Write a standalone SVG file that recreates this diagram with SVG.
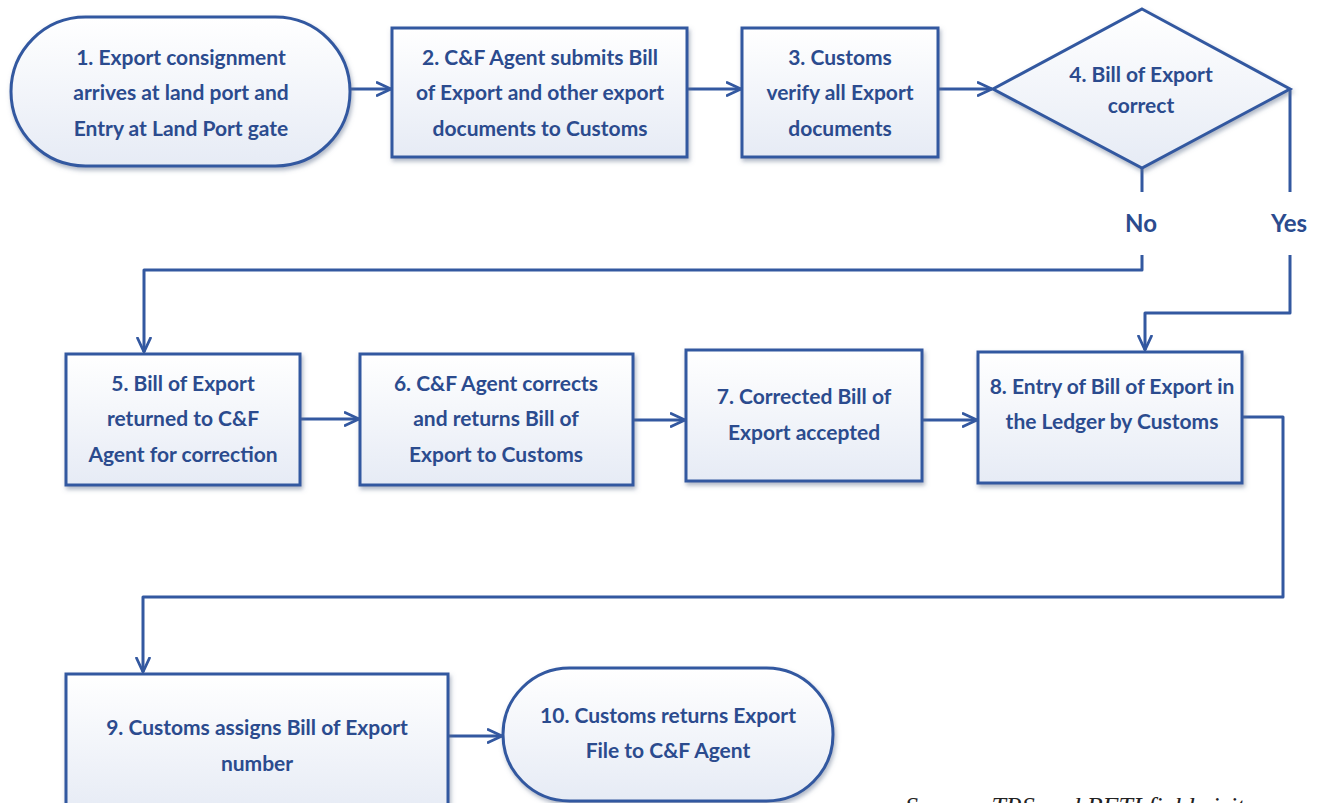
<svg xmlns="http://www.w3.org/2000/svg" width="1320" height="803" viewBox="0 0 1320 803">
  <defs>
    <linearGradient id="fillGrad" x1="0" y1="0" x2="0" y2="1">
      <stop offset="0" stop-color="#ffffff"/>
      <stop offset="1" stop-color="#e6ebf5"/>
    </linearGradient>
    <filter id="shadow" x="-10%" y="-10%" width="125%" height="130%">
      <feDropShadow dx="1.5" dy="3" stdDeviation="2.2" flood-color="#5f6f8c" flood-opacity="0.5"/>
    </filter>
    <marker id="arrow" viewBox="0 0 16 16" refX="15" refY="8" markerWidth="16" markerHeight="16" markerUnits="userSpaceOnUse" orient="auto">
      <polyline points="1,1.5 15,8 1,14.5" fill="none" stroke="#3358a0" stroke-width="2.8" stroke-linecap="round" stroke-linejoin="round"/>
    </marker>
    <style>
      .shape { fill: url(#fillGrad); stroke: #3358a0; stroke-width: 3; filter: url(#shadow); }
      .label { font-family: "Lato", "Liberation Sans", sans-serif; font-weight: 700; font-size: 21px; fill: #2b4b8e; text-anchor: middle; }
      .branch { font-family: "Lato", "Liberation Sans", sans-serif; font-weight: 700; font-size: 24px; fill: #2b4b8e; text-anchor: middle; }
      .conn { fill: none; stroke: #3358a0; stroke-width: 3; stroke-linejoin: round; }
      .source { font-family: "Liberation Serif", serif; font-style: italic; font-size: 26px; fill: #222; }
    </style>
  </defs>

  <rect width="1320" height="803" fill="#ffffff"/>

  <!-- connectors -->
  <g id="connectors">
    <path class="conn" d="M350,89 H391" marker-end="url(#arrow)"/>
    <path class="conn" d="M687,89 H741" marker-end="url(#arrow)"/>
    <path class="conn" d="M938,89 H992" marker-end="url(#arrow)"/>
    <path class="conn" d="M1142,168 V192"/>
    <path class="conn" d="M1142,255 V270 H144 V352" marker-end="url(#arrow)"/>
    <path class="conn" d="M1290,89 V192"/>
    <path class="conn" d="M1290,255 V313 H1145 V350" marker-end="url(#arrow)"/>
    <path class="conn" d="M300,419 H359" marker-end="url(#arrow)"/>
    <path class="conn" d="M633,420 H685" marker-end="url(#arrow)"/>
    <path class="conn" d="M922,420 H977" marker-end="url(#arrow)"/>
    <path class="conn" d="M1242,417 H1283 V597 H143 V672" marker-end="url(#arrow)"/>
    <path class="conn" d="M448,736 H502" marker-end="url(#arrow)"/>
    <text class="branch" x="1141" y="232">No</text>
    <text class="branch" x="1289" y="232">Yes</text>
  </g>

  <!-- 1: start -->
  <g id="node1">
    <rect class="shape" x="11" y="17" width="339" height="149" rx="74.5" ry="74.5"/>
    <text class="label" x="181" y="65">1. Export consignment</text>
    <text class="label" x="181" y="100">arrives at land port and</text>
    <text class="label" x="181" y="136">Entry at Land Port gate</text>
  </g>

  <g id="node2">
    <rect class="shape" x="392" y="28" width="295" height="129"/>
    <text class="label" x="540" y="65">2. C&amp;F Agent submits Bill</text>
    <text class="label" x="540" y="100">of Export and other export</text>
    <text class="label" x="540" y="136">documents to Customs</text>
  </g>

  <g id="node3">
    <rect class="shape" x="742" y="28" width="196" height="129"/>
    <text class="label" x="840" y="65">3. Customs</text>
    <text class="label" x="840" y="100">verify all Export</text>
    <text class="label" x="840" y="136">documents</text>
  </g>

  <g id="node4">
    <polygon class="shape" points="1142,9 1290,89 1142,168 993,89"/>
    <text class="label" x="1141" y="82">4. Bill of Export</text>
    <text class="label" x="1141" y="113">correct</text>
  </g>

  <g id="node5">
    <rect class="shape" x="66" y="354" width="234" height="131"/>
    <text class="label" x="183" y="391">5. Bill of Export</text>
    <text class="label" x="183" y="426">returned to C&amp;F</text>
    <text class="label" x="183" y="462">Agent for correction</text>
  </g>

  <g id="node6">
    <rect class="shape" x="360" y="354" width="273" height="131"/>
    <text class="label" x="496" y="391">6. C&amp;F Agent corrects</text>
    <text class="label" x="496" y="426">and returns Bill of</text>
    <text class="label" x="496" y="462">Export to Customs</text>
  </g>

  <g id="node7">
    <rect class="shape" x="686" y="350" width="236" height="131"/>
    <text class="label" x="804" y="404">7. Corrected Bill of</text>
    <text class="label" x="804" y="440">Export accepted</text>
  </g>

  <g id="node8">
    <rect class="shape" x="978" y="352" width="264" height="131"/>
    <text class="label" x="1112" y="394">8. Entry of Bill of Export in</text>
    <text class="label" x="1112" y="429">the Ledger by Customs</text>
  </g>

  <g id="node9">
    <rect class="shape" x="66" y="674" width="382" height="140"/>
    <text class="label" x="257" y="735">9. Customs assigns Bill of Export</text>
    <text class="label" x="257" y="771">number</text>
  </g>

  <!-- 10: end -->
  <g id="node10">
    <rect class="shape" x="503" y="668" width="330" height="133" rx="66.5" ry="66.5"/>
    <text class="label" x="668" y="723">10. Customs returns Export</text>
    <text class="label" x="668" y="758">File to C&amp;F Agent</text>
  </g>

  <!-- source note, running off the bottom edge -->
  <text class="source" x="905" y="815">Source: TRS and BFTI field visits</text>
</svg>
